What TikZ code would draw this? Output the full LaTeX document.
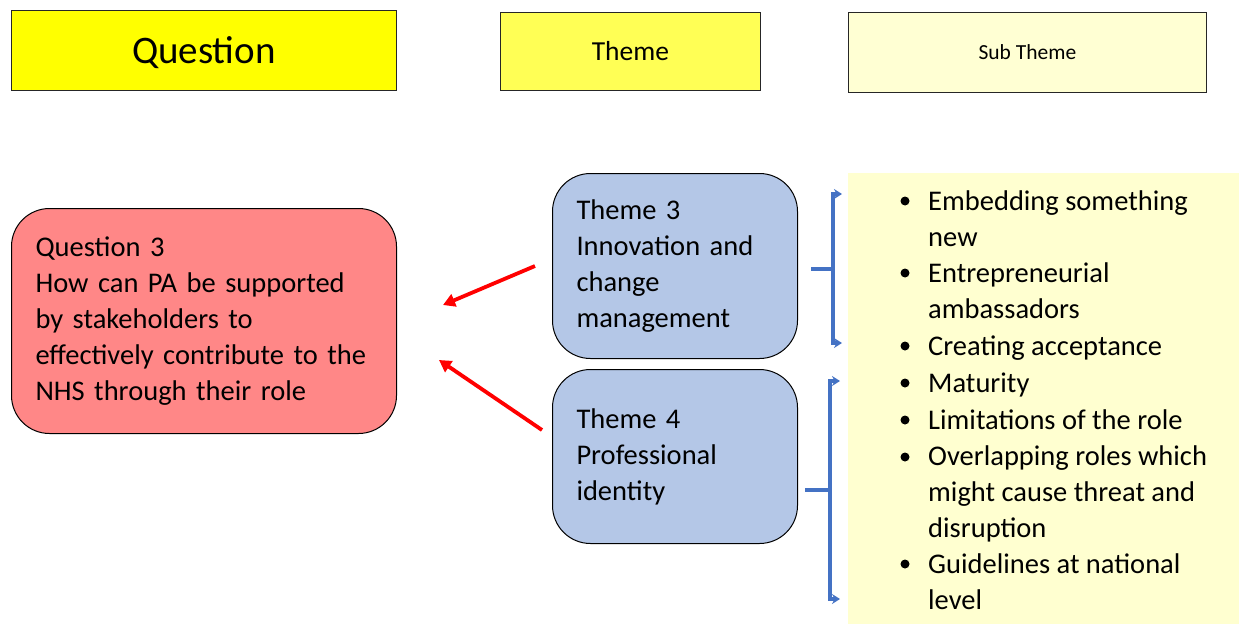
\documentclass[tikz,border=0pt]{standalone}
\usepackage{fontspec}
\setmainfont{Carlito}
\usetikzlibrary{arrows.meta}
\definecolor{hdrQ}{HTML}{FFFF00}
\definecolor{hdrT}{HTML}{FFFF55}
\definecolor{hdrS}{HTML}{FFFFD3}
\definecolor{subbg}{HTML}{FFFFD0}
\definecolor{qred}{HTML}{FF8787}
\definecolor{tblue}{HTML}{B4C7E7}
\definecolor{brblue}{HTML}{4472C4}
\newcommand\bodyfont{\fontsize{28.5}{36}\selectfont}
\begin{document}
\begin{tikzpicture}[x=1pt,y=-1pt,
  header/.style={draw=black!85, line width=0.8pt, inner sep=0pt, anchor=north west, text depth=0pt},
  roundbox/.style={draw=black, line width=1pt, rounded corners=38pt, anchor=north west,
    align=left, inner xsep=24pt, inner ysep=0pt, font=\bodyfont},
  item/.style={anchor=base west, align=left, inner sep=0pt, font=\bodyfont},
  pointer/.style={draw=red, line width=3.8pt, -{Triangle[length=12pt,width=13pt]}},
  brace/.style={draw=brblue, line width=3.5pt},
  bracetip/.style={brace, -{Stealth[length=8pt,width=10pt]}},
  dot/.style={fill=black}]
\useasboundingbox (0,0) rectangle (1239,624);

% column headers
\node[header, fill=hdrQ, minimum width=385pt, minimum height=80pt,
      font=\fontsize{39}{44}\selectfont] (hq) at (11,10) {Question};
\node[header, fill=hdrT, minimum width=260pt, minimum height=78pt,
      font=\fontsize{27.5}{30}\selectfont] (ht) at (500,12) {Theme};
\node[header, fill=hdrS, minimum width=358pt, minimum height=80pt,
      font=\fontsize{21.5}{24}\selectfont] (hs) at (848,12) {Sub Theme};

% question and themes
\node[roundbox, fill=qred, minimum width=385pt, minimum height=225pt, text width=337pt]
  (q3) at (11,208) {Question 3\\How can PA be supported\\by stakeholders to\\effectively contribute to the\\NHS through their role};
\node[roundbox, fill=tblue, minimum width=245pt, minimum height=185pt, text width=197pt]
  (t3) at (552,173) {Theme 3\\Innovation and\\change\\management};
\node[roundbox, fill=tblue, minimum width=245pt, minimum height=174pt, text width=197pt]
  (t4) at (552,369) {Theme 4\\Professional\\identity};

% sub-theme panel
\node[fill=subbg, anchor=north west, minimum width=391pt, minimum height=451pt, inner sep=0pt]
  (subs) at (848,173) {};

% sub-theme items (anchored at the baseline of their last line)
\node[item] (s1) at (928,246) {Embedding something\\new};
\node[item] (s2) at (928,318) {Entrepreneurial\\ambassadors};
\node[item] (s3) at (928,355) {Creating acceptance};
\node[item] (s4) at (928,392) {Maturity};
\node[item] (s5) at (928,429) {Limitations of the role};
\node[item] (s6) at (928,537) {Overlapping roles which\\might cause threat and\\disruption};
\node[item] (s7) at (928,609) {Guidelines at national\\level};
\foreach \y in {201,273,346,383,420,457,564}
  \fill[dot] (905,\y) circle (4.5pt);

% brackets grouping the sub-themes
\coordinate (b3) at (811,269);
\coordinate (b3m) at (833,269);
\coordinate (b3t) at (842,194);
\coordinate (b3b) at (842,343);
\draw[brace] (b3) -- (b3m);
\draw[bracetip] (b3m) |- (b3t);
\draw[bracetip] (b3m) |- (b3b);
\coordinate (b4) at (805,490);
\coordinate (b4m) at (830,490);
\coordinate (b4t) at (840,381);
\coordinate (b4b) at (840,599);
\draw[brace] (b4) -- (b4m);
\draw[bracetip] (b4m) |- (b4t);
\draw[bracetip] (b4m) |- (b4b);

% arrows from themes to the question
\coordinate (p3s) at (535,266);
\coordinate (p3e) at (443,305);
\coordinate (p4s) at (542,430);
\coordinate (p4e) at (439,360);
\draw[pointer] (p3s) -- (p3e);
\draw[pointer] (p4s) -- (p4e);
\end{tikzpicture}
\end{document}
